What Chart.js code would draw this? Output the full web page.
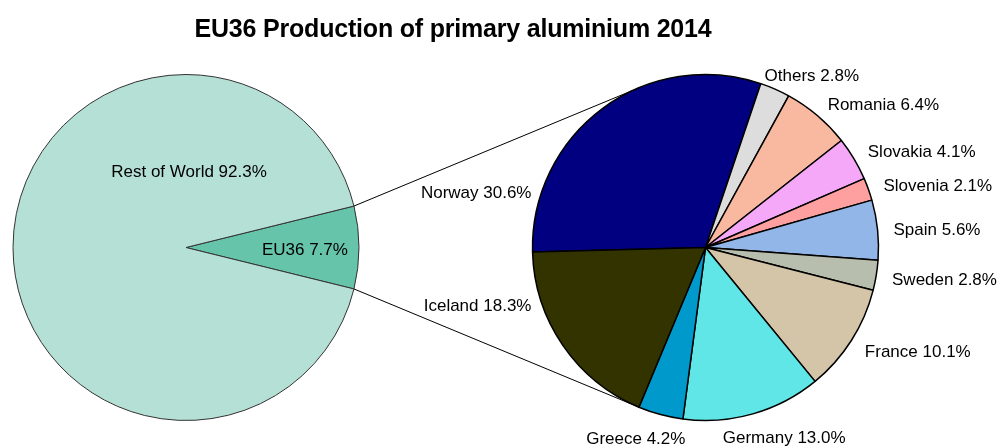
<!DOCTYPE html>
<html>
<head>
<meta charset="utf-8">
<script src="https://cdn.jsdelivr.net/npm/chart.js@4.4.0/dist/chart.umd.min.js"></script>
<style>
  html, body { margin: 0; padding: 0; background: #fff; }
  #wrap { position: relative; width: 999px; height: 448px; overflow: hidden; }
  #wrap canvas { position: absolute; left: 0; top: 0; }
  #title {
    position: absolute; left: 0; top: 14px; width: 906px;
    text-align: center; line-height: 25px; letter-spacing: -0.2px;
    font: bold 25px "Liberation Sans", Arial, sans-serif; color: #000;
  }
</style>
</head>
<body>
<div id="wrap">
  <canvas id="overview" width="999" height="448"></canvas>
  <canvas id="breakdown" width="999" height="448"></canvas>
  <div id="title">EU36 Production of primary aluminium 2014</div>
</div>
<script>
// world share
const overviewLabels = ["EU36", "Rest of World"];
const overviewValues = [7.7, 92.3];
const overviewColors = ["#66C4AA", "#B5E0D5"];

// EU36 split by country (clockwise from Norway)
const countryLabels = ["Norway", "Others", "Romania", "Slovakia", "Slovenia", "Spain",
  "Sweden", "France", "Germany", "Greece", "Iceland"];
const countryValues = [30.6, 2.8, 6.4, 4.1, 2.1, 5.6, 2.8, 10.1, 13.0, 4.2, 18.3];
const countryColors = ["#000080", "#DDDDDD", "#F9B8A0", "#F5A8F8", "#FFA0A0", "#93B6E8",
  "#B8BEAE", "#D5C5A8", "#60E6E6", "#0099CC", "#333300"];

const FONT = '"Liberation Sans", Arial, sans-serif';
const labelText = (chart, i) =>
  chart.data.labels[i] + " " + chart.data.datasets[0].data[i].toFixed(1) + "%";

// labels inside the big pie
const insideLabels = {
  id: "insideLabels",
  afterDatasetsDraw(chart) {
    const ctx = chart.ctx;
    const meta = chart.getDatasetMeta(0);
    ctx.save();
    ctx.font = "17px " + FONT;
    ctx.fillStyle = "#000";
    ctx.textAlign = "center";
    ctx.textBaseline = "middle";
    meta.data.forEach((arc, i) => {
      const share = chart.data.datasets[0].data[i] / 100;
      let ang, dist;
      if (share > 0.5) {
        // big slice: label sits above the centre
        ang = -Math.PI / 2;
        dist = arc.outerRadius * 0.45;
      } else {
        ang = (arc.startAngle + arc.endAngle) / 2;
        dist = arc.outerRadius * 0.67;
      }
      ctx.fillText(labelText(chart, i), arc.x + Math.cos(ang) * dist + 3, arc.y + Math.sin(ang) * dist + 3);
    });
    ctx.restore();
  },
};

// labels outside the small pie
const outsideLabels = {
  id: "outsideLabels",
  afterDatasetsDraw(chart) {
    const ctx = chart.ctx;
    const meta = chart.getDatasetMeta(0);
    const deg = Math.PI / 180;
    ctx.save();
    ctx.font = "17px " + FONT;
    ctx.fillStyle = "#000";
    ctx.textAlign = "center";
    ctx.textBaseline = "middle";
    meta.data.forEach((arc, i) => {
      // angle clockwise from 12 o'clock
      let phi = (arc.startAngle + arc.endAngle) / 2 + Math.PI / 2;
      phi = ((phi % (2 * Math.PI)) + 2 * Math.PI) % (2 * Math.PI);
      let R = arc.outerRadius + 16;
      // keep labels facing the big pie between the connector lines
      if (phi > 200 * deg && phi < 340 * deg) {
        phi = Math.min(Math.max(phi, 252 * deg), 288 * deg);
        R = arc.outerRadius + 10;
      }
      const s = Math.sin(phi), c = Math.cos(phi);
      const text = labelText(chart, i);
      const w = ctx.measureText(text).width;
      const k = Math.max(-1, Math.min(1, 1.6 * s));
      const x = arc.x + R * s + k * w / 2;
      const y = arc.y - R * c + 2 + 8 * Math.pow(Math.max(0, -c), 3);
      ctx.fillText(text, x, y);
    });
    ctx.restore();
  },
};

let overviewChart;

// lines from the EU36 wedge to the breakdown pie
const connectors = {
  id: "connectors",
  afterDatasetsDraw(chart) {
    if (!overviewChart) return;
    const wedge = overviewChart.getDatasetMeta(0).data[0];
    const big = chart.getDatasetMeta(0).data[0];
    const cx = big.x, cy = big.y, r = big.outerRadius;
    const ctx = chart.ctx;
    ctx.save();
    ctx.strokeStyle = "#000";
    ctx.lineWidth = 1;
    [[wedge.startAngle, 1], [wedge.endAngle, -1]].forEach(([a, dir]) => {
      const px = wedge.x + Math.cos(a) * wedge.outerRadius;
      const py = wedge.y + Math.sin(a) * wedge.outerRadius;
      const d = Math.hypot(px - cx, py - cy);
      const beta = Math.atan2(py - cy, px - cx);
      const alpha = Math.acos(r / d);
      const t = beta + dir * alpha;
      ctx.beginPath();
      ctx.moveTo(px, py);
      ctx.lineTo(cx + r * Math.cos(t), cy + r * Math.sin(t));
      ctx.stroke();
    });
    ctx.restore();
  },
};

const baseOptions = {
  responsive: false,
  animation: false,
  events: [],
  plugins: { legend: { display: false }, tooltip: { enabled: false } },
};

overviewChart = new Chart(document.getElementById("overview"), {
  type: "pie",
  data: {
    labels: overviewLabels,
    datasets: [{
      data: overviewValues,
      backgroundColor: overviewColors,
      borderColor: "#333333",
      borderWidth: 1,
    }],
  },
  options: {
    ...baseOptions,
    radius: 173,
    rotation: 90 - (overviewValues[0] * 3.6) / 2,
    layout: { padding: { left: 0, right: 627, top: 47, bottom: 0 } },
  },
  plugins: [insideLabels],
});

new Chart(document.getElementById("breakdown"), {
  type: "pie",
  data: {
    labels: countryLabels,
    datasets: [{
      data: countryValues,
      backgroundColor: countryColors,
      borderColor: "#000000",
      borderWidth: 1.5,
    }],
  },
  options: {
    ...baseOptions,
    radius: 173,
    rotation: -91.5,
    layout: { padding: { left: 412, right: 0, top: 47, bottom: 0 } },
  },
  plugins: [connectors, outsideLabels],
});
</script>
</body>
</html>
